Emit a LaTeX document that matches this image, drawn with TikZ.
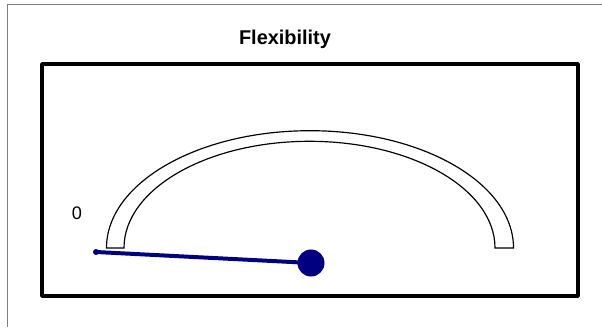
\documentclass[tikz,border=0pt]{standalone}
\usepackage{fontspec}
\setmainfont{Liberation Sans}
\definecolor{navy1}{RGB}{0, 0, 128}
\definecolor{frame1}{RGB}{128, 128, 128}
\usetikzlibrary{positioning, calc}

\tikzset{
  dial/.style={draw=black, line width=1pt, fill=white},
  needle/.style={draw=navy1, line width=3.4pt},
  hub/.style={circle, fill=navy1, inner sep=0pt, minimum size=0.81cm},
  tip/.style={circle, fill=navy1, inner sep=0pt, minimum size=0.18cm}
}

\begin{document}
\begin{tikzpicture}[x=0.03cm, y=0.03cm]
  \useasboundingbox (0,0) rectangle (602,327);
  % page edge
  \draw[frame1, line width=0.6pt] (7.5,0) -- (7.5,322.5) -- (602,322.5);

  % title and panel
  \node[font=\bfseries\fontsize{17}{20}\selectfont] (title) at (285,288) {Flexibility};
  \draw[line width=3.4pt, rounded corners=0.5pt] (42,31) rectangle (578,263);

  % scale band
  \draw[dial] (106.5,79) arc (180:0:203.5 and 117.3) -- (495,79)
    arc (0:180:185.5 and 106.7) -- cycle;
  \node[font=\fontsize{15.5}{18}\selectfont] (zero) at (77,114) {0};

  % pointer
  \node[tip] (needletip) at (96,75) {};
  \node[hub] (needlehub) at (311,64) {};
  \draw[needle] (needletip.center) -- (needlehub.center);
\end{tikzpicture}
\end{document}
